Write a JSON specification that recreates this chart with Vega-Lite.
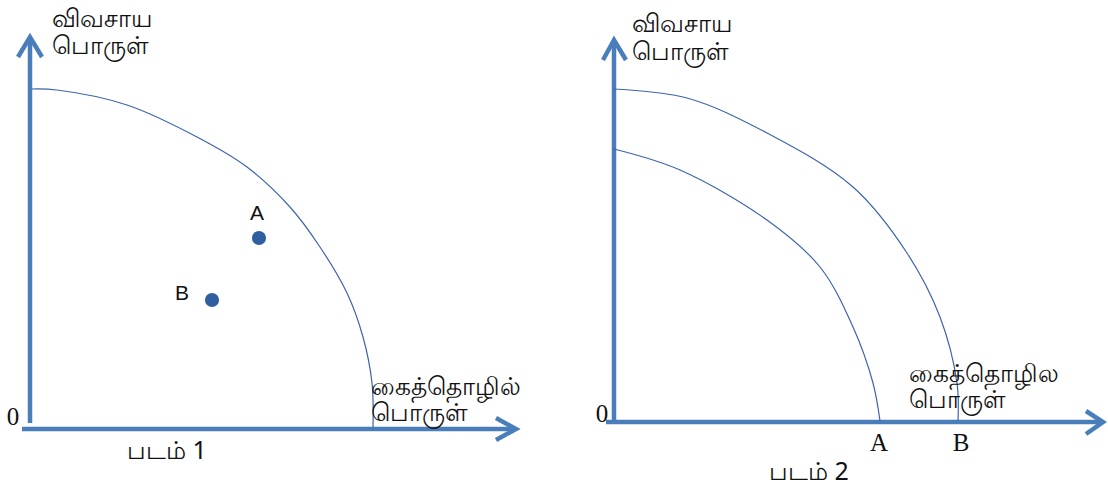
{
  "$schema": "https://vega.github.io/schema/vega-lite/v6.json",
  "width": 1108,
  "height": 488,
  "autosize": {"type": "none"},
  "padding": 0,
  "background": "white",
  "config": {"view": {"stroke": null}},
  "datasets": {
    "axes": [
      {"seg": "L_v", "ord": 1, "x": 30, "y": 423},
      {"seg": "L_v", "ord": 2, "x": 30, "y": 38},
      {"seg": "L_va", "ord": 1, "x": 18, "y": 57},
      {"seg": "L_va", "ord": 2, "x": 30, "y": 37},
      {"seg": "L_va", "ord": 3, "x": 42, "y": 57},
      {"seg": "L_h", "ord": 1, "x": 22, "y": 429},
      {"seg": "L_h", "ord": 2, "x": 515, "y": 429},
      {"seg": "L_ha", "ord": 1, "x": 496, "y": 418},
      {"seg": "L_ha", "ord": 2, "x": 516, "y": 429},
      {"seg": "L_ha", "ord": 3, "x": 496, "y": 440},
      {"seg": "R_v", "ord": 1, "x": 614, "y": 422},
      {"seg": "R_v", "ord": 2, "x": 614, "y": 41},
      {"seg": "R_va", "ord": 1, "x": 603, "y": 60},
      {"seg": "R_va", "ord": 2, "x": 614, "y": 40},
      {"seg": "R_va", "ord": 3, "x": 626, "y": 60},
      {"seg": "R_h", "ord": 1, "x": 606, "y": 422},
      {"seg": "R_h", "ord": 2, "x": 1102, "y": 422},
      {"seg": "R_ha", "ord": 1, "x": 1086, "y": 411},
      {"seg": "R_ha", "ord": 2, "x": 1103, "y": 422},
      {"seg": "R_ha", "ord": 3, "x": 1086, "y": 434}
    ],
    "curves": [
      {"curve": "L", "ord": 1, "x": 32, "y": 89},
      {"curve": "L", "ord": 2, "x": 57, "y": 90},
      {"curve": "L", "ord": 3, "x": 127, "y": 105},
      {"curve": "L", "ord": 4, "x": 197, "y": 137},
      {"curve": "L", "ord": 5, "x": 247, "y": 167},
      {"curve": "L", "ord": 6, "x": 290, "y": 207},
      {"curve": "L", "ord": 7, "x": 320, "y": 247},
      {"curve": "L", "ord": 8, "x": 347, "y": 293},
      {"curve": "L", "ord": 9, "x": 363, "y": 337},
      {"curve": "L", "ord": 10, "x": 372, "y": 383},
      {"curve": "L", "ord": 11, "x": 373, "y": 428},
      {"curve": "RO", "ord": 1, "x": 614, "y": 89},
      {"curve": "RO", "ord": 2, "x": 687, "y": 98},
      {"curve": "RO", "ord": 3, "x": 767, "y": 133},
      {"curve": "RO", "ord": 4, "x": 853, "y": 187},
      {"curve": "RO", "ord": 5, "x": 907, "y": 253},
      {"curve": "RO", "ord": 6, "x": 940, "y": 317},
      {"curve": "RO", "ord": 7, "x": 957, "y": 383},
      {"curve": "RO", "ord": 8, "x": 958, "y": 421},
      {"curve": "RI", "ord": 1, "x": 614, "y": 149},
      {"curve": "RI", "ord": 2, "x": 680, "y": 170},
      {"curve": "RI", "ord": 3, "x": 767, "y": 220},
      {"curve": "RI", "ord": 4, "x": 820, "y": 267},
      {"curve": "RI", "ord": 5, "x": 853, "y": 327},
      {"curve": "RI", "ord": 6, "x": 873, "y": 383},
      {"curve": "RI", "ord": 7, "x": 880, "y": 421}
    ],
    "points": [
      {"name": "A", "x": 259, "y": 238},
      {"name": "B", "x": 212, "y": 300}
    ],
    "tamil": [
      {"label": "விவசாய", "x": 52, "y": 19},
      {"label": "பொருள்", "x": 52, "y": 46},
      {"label": "கைத்தொழில்", "x": 371, "y": 387},
      {"label": "பொருள்", "x": 371, "y": 413},
      {"label": "படம்  1", "x": 127, "y": 451},
      {"label": "விவசாய", "x": 632, "y": 24},
      {"label": "பொருள்", "x": 632, "y": 52},
      {"label": "கைத்தொழில", "x": 909, "y": 374},
      {"label": "பொருள்", "x": 909, "y": 400},
      {"label": "படம்  2", "x": 769, "y": 472}
    ],
    "sans": [
      {"label": "A", "x": 257, "y": 214},
      {"label": "B", "x": 182, "y": 294}
    ],
    "serif": [
      {"label": "0", "x": 13, "y": 417},
      {"label": "0", "x": 602, "y": 414},
      {"label": "A", "x": 879, "y": 443},
      {"label": "B", "x": 961, "y": 443}
    ]
  },
  "layer": [
    {
      "data": {"name": "axes"},
      "mark": {"type": "line", "color": "#4a7ebb", "strokeWidth": 4.5, "strokeJoin": "miter", "strokeCap": "butt", "clip": false},
      "encoding": {
        "x": {"field": "x", "type": "quantitative", "scale": {"domain": [0, 1108], "nice": false, "zero": false}, "axis": null},
        "y": {"field": "y", "type": "quantitative", "scale": {"domain": [0, 488], "reverse": true, "nice": false, "zero": false}, "axis": null},
        "detail": {"field": "seg"},
        "order": {"field": "ord"}
      }
    },
    {
      "data": {"name": "curves"},
      "mark": {"type": "line", "color": "#3d64ac", "strokeWidth": 1.2, "interpolate": "catmull-rom"},
      "encoding": {
        "x": {"field": "x", "type": "quantitative"},
        "y": {"field": "y", "type": "quantitative"},
        "detail": {"field": "curve"},
        "order": {"field": "ord"}
      }
    },
    {
      "data": {"name": "points"},
      "mark": {"type": "circle", "color": "#2f5f9e", "opacity": 1, "size": 200},
      "encoding": {
        "x": {"field": "x", "type": "quantitative"},
        "y": {"field": "y", "type": "quantitative"}
      }
    },
    {
      "data": {"name": "tamil"},
      "mark": {"type": "text", "align": "left", "baseline": "middle", "fontSize": 25, "font": "Noto Sans", "color": "#111111"},
      "encoding": {
        "x": {"field": "x", "type": "quantitative"},
        "y": {"field": "y", "type": "quantitative"},
        "text": {"field": "label"}
      }
    },
    {
      "data": {"name": "sans"},
      "mark": {"type": "text", "align": "center", "baseline": "middle", "fontSize": 21, "font": "Liberation Sans", "color": "#111111"},
      "encoding": {
        "x": {"field": "x", "type": "quantitative"},
        "y": {"field": "y", "type": "quantitative"},
        "text": {"field": "label"}
      }
    },
    {
      "data": {"name": "serif"},
      "mark": {"type": "text", "align": "center", "baseline": "middle", "fontSize": 25, "font": "Liberation Serif", "color": "#111111"},
      "encoding": {
        "x": {"field": "x", "type": "quantitative"},
        "y": {"field": "y", "type": "quantitative"},
        "text": {"field": "label"}
      }
    }
  ]
}
